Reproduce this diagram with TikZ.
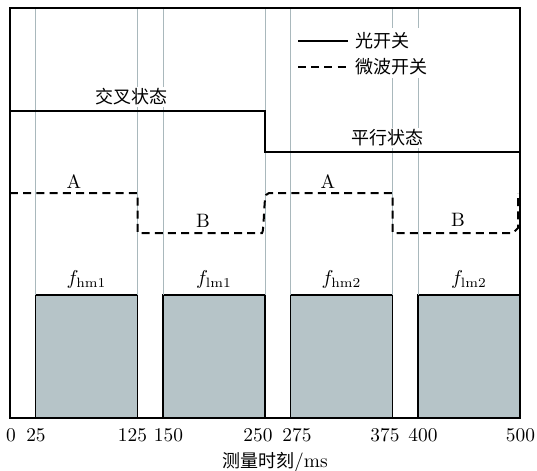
\documentclass[tikz,border=0pt]{standalone}
\usepackage{fontspec}
\newfontfamily\cjk{Noto Sans CJK SC}
\begin{document}
\begin{tikzpicture}[x=0.5pt,y=-0.5pt,
  barbox/.style={draw=black, line width=0.6pt},
  sigsolid/.style={line width=1pt},
  sigdash/.style={line width=1pt, dash pattern=on 4pt off 2.6pt},
  lbl/.style={inner sep=0pt, font=\fontsize{9.7pt}{11pt}\selectfont},
  cjklbl/.style={inner sep=0pt, font=\fontsize{9pt}{11pt}\selectfont\cjk}]
\definecolor{barfill}{HTML}{B6C4C8}
\definecolor{gridc}{HTML}{A9B8BC}
\useasboundingbox (0,0) rectangle (537,471);
% bars
\fill[barfill] (35.5,295) rectangle (137.5,418);
\draw[barbox] (35.5,418) -- (35.5,295) -- (137.5,295) -- (137.5,418);
\fill[barfill] (163,295) rectangle (265,418);
\draw[barbox] (163,418) -- (163,295) -- (265,295) -- (265,418);
\fill[barfill] (290.5,295) rectangle (392.5,418);
\draw[barbox] (290.5,418) -- (290.5,295) -- (392.5,295) -- (392.5,418);
\fill[barfill] (418,295) rectangle (520,418);
\draw[barbox] (418,418) -- (418,295) -- (520,295) -- (520,418);
% grid lines
\foreach \x in {35.5,137.5,163,265,290.5,392.5,418}
  \draw[draw=gridc, line width=0.5pt] (\x,8) -- (\x,295);
% legend
\fill[white] (295,28) rectangle (440,78);
\draw[sigsolid] (298,41) -- (348,41);
\draw[sigdash] (298,67) -- (348,67);
\node[cjklbl, anchor=west] (lg1) at (355,41) {光开关};
\node[cjklbl, anchor=west] (lg2) at (355,67) {微波开关};
% state labels
\node[cjklbl, fill=white, inner sep=1pt] (cross) at (132,97) {交叉状态};
\node[cjklbl, fill=white, inner sep=1pt] (para) at (387,138) {平行状态};
% frame
\draw[line width=0.75pt] (10,8) rectangle (520,418);
% optical switch signal
\draw[sigsolid] (10,153) -- (10,111) -- (265,111) -- (265,152) -- (520,152);
% microwave switch signal
\draw[sigdash] (10,193) -- (137.5,193) -- (137.5,233) -- (262,233)
  .. controls (264,233) and (264,196) .. (266,195) -- (269,193) -- (392.5,193) -- (392.5,233)
  -- (513,233) -- (518,228) -- (518,193);
% level labels
\node[lbl] (a1) at (74,182) {A};
\node[lbl] (b1) at (203,221) {B};
\node[lbl] (a2) at (328,182) {A};
\node[lbl] (b2) at (458,220) {B};
% bar labels
\node[lbl] (f1) at (86.5,280) {$f_{\rm hm1}$};
\node[lbl] (f2) at (214,280) {$f_{\rm lm1}$};
\node[lbl] (f3) at (341.5,280) {$f_{\rm hm2}$};
\node[lbl] (f4) at (469,280) {$f_{\rm lm2}$};
% tick labels
\foreach \x/\t in {11/0,36/25,132.5/125,168.5/150,258/250,297/275,385/375,423/400,520.5/500}
  \node[lbl] at (\x,435) {\t};
\node[lbl] (xl) at (275,462) {{\cjk\fontsize{9pt}{11pt}\selectfont 测量时刻}/ms};
\end{tikzpicture}
\end{document}
